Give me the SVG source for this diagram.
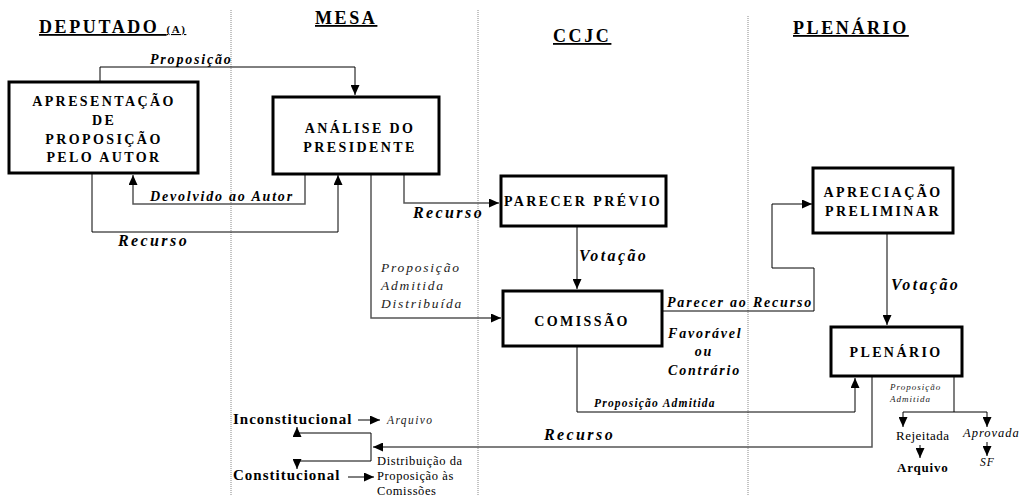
<svg xmlns="http://www.w3.org/2000/svg" width="1024" height="496" viewBox="0 0 1024 496" font-family="'Liberation Serif','DejaVu Serif',serif">
<style>
text{font-family:'Liberation Serif','DejaVu Serif',serif;fill:#000}
.hd{font-size:18px;font-weight:bold;letter-spacing:2.6px;text-decoration:underline}
.bx{font-size:14px;font-weight:bold;letter-spacing:2.4px;text-anchor:middle}
.lb{font-size:14px;font-weight:bold;font-style:italic;letter-spacing:1.8px}
.big{font-size:16px;letter-spacing:2.4px}
.li{font-size:13.5px;font-style:italic;letter-spacing:1.8px;fill:#222}
.sm{font-size:9px;font-style:italic;letter-spacing:1px;fill:#222}
.node{fill:#fff;stroke:#000;stroke-width:3}
.c{fill:none;stroke:#000;stroke-width:1}
.g{fill:none;stroke:#555;stroke-width:1.5}
.div{stroke:#888;stroke-width:1;stroke-dasharray:1 1}
</style>
<defs>
<marker id="ar" markerUnits="userSpaceOnUse" markerWidth="10" markerHeight="9" refX="10" refY="4.5" orient="auto">
<path d="M0,0 L10,4.5 L0,9 z" fill="#000"/>
</marker>
</defs>
<rect width="1024" height="496" fill="#fff"/>
<g id="dividers">
<line class="div" x1="231" y1="10" x2="231" y2="496"/>
<line class="div" x1="478" y1="10" x2="478" y2="496"/>
<line class="div" x1="748" y1="16" x2="748" y2="496"/>
</g>
<g id="headers">
<text class="hd" x="39" y="33">DEPUTADO <tspan style="font-size:11px;letter-spacing:1.5px">(A)</tspan></text>
<text class="hd" x="315" y="24">MESA</text>
<text class="hd" x="553" y="42">CCJC</text>
<text class="hd" x="793" y="34">PLENÁRIO</text>
</g>
<g id="connectors">
<path class="c" d="M100 81 V67 H355 V95" marker-end="url(#ar)"/>
<path class="g" d="M305 174 V204 H133 V175" marker-end="url(#ar)"/>
<path class="c" d="M92 174 V232 H338 V175" marker-end="url(#ar)"/>
<path class="g" d="M404 174 V203 H499" marker-end="url(#ar)"/>
<path class="g" d="M371 174 V318 H501" marker-end="url(#ar)"/>
<path class="c" d="M577 226 V289" marker-end="url(#ar)"/>
<path class="c" d="M663 311 H814 V268 H772 V204 H812" marker-end="url(#ar)"/>
<path class="g" d="M887 233 V325" marker-end="url(#ar)"/>
<path class="c" d="M577 347 V412 H855 V378" marker-end="url(#ar)"/>
<path class="g" d="M872 377 V447 H373" marker-end="url(#ar)"/>
<path class="c" d="M371 433 V461"/>
<path class="c" d="M371 433 H297 V427" marker-end="url(#ar)"/>
<path class="c" d="M371 461 H297 V469" marker-end="url(#ar)"/>
<path class="c" d="M358 420 H380" marker-end="url(#ar)"/>
<path class="c" d="M348 477 H374" marker-end="url(#ar)"/>
<path class="g" d="M954 377 V412"/>
<path class="c" d="M903 412 H987"/>
<path class="c" d="M903 412 V427" marker-end="url(#ar)"/>
<path class="c" d="M987 412 V427" marker-end="url(#ar)"/>
<path class="c" d="M920 445 V458" marker-end="url(#ar)"/>
<path class="c" d="M987 442 V456" marker-end="url(#ar)"/>
</g>
<g id="labels">
<text class="lb" x="150" y="64">Proposição</text>
<text class="lb" x="150" y="201">Devolvido ao Autor</text>
<text class="lb big" x="118" y="246">Recurso</text>
<text class="lb big" x="413" y="218">Recurso</text>
<text class="li" x="381" y="272">Proposição</text>
<text class="li" x="381" y="290">Admitida</text>
<text class="li" x="381" y="308">Distribuída</text>
<text class="lb big" x="579" y="261">Votação</text>
<text class="lb" x="667" y="307">Parecer ao Recurso</text>
<text class="lb" x="668" y="338">Favorável</text>
<text class="lb" x="704" y="356" text-anchor="middle">ou</text>
<text class="lb" x="668" y="375">Contrário</text>
<text class="lb big" x="891" y="290">Votação</text>
<text class="lb" x="594" y="407" style="font-size:11.5px;letter-spacing:1.2px">Proposição Admitida</text>
<text class="lb big" x="544" y="440">Recurso</text>
<text x="233" y="424" font-size="15" font-weight="bold" letter-spacing="1">Inconstitucional</text>
<text x="387" y="424" class="sm" style="font-size:11.5px;letter-spacing:1.4px">Arquivo</text>
<text x="233" y="480" font-size="15" font-weight="bold" letter-spacing="1">Constitucional</text>
<text x="377" y="465" font-size="12.5" letter-spacing="0.6">Distribuição da</text>
<text x="377" y="480" font-size="12.5" letter-spacing="0.6">Proposição às</text>
<text x="377" y="495" font-size="12.5" letter-spacing="0.6">Comissões</text>
<text class="sm" x="890" y="390">Proposição</text>
<text class="sm" x="890" y="402">Admitida</text>
<text x="896" y="440" font-size="13" letter-spacing="0.5">Rejeitada</text>
<text x="897" y="472" font-size="13" font-weight="bold" letter-spacing="0.8">Arquivo</text>
<text x="963" y="437" font-size="12.5" font-style="italic" letter-spacing="1">Aprovada</text>
<text x="980" y="466" font-size="11.5" font-style="italic" letter-spacing="1">SF</text>
</g>
<g id="n-apresentacao">
<rect class="node" x="9" y="82" width="189" height="91"/>
<text class="bx" x="104" y="106">APRESENTAÇÃO</text>
<text class="bx" x="104" y="125">DE</text>
<text class="bx" x="104" y="144">PROPOSIÇÃO</text>
<text class="bx" x="104" y="162">PELO AUTOR</text>
</g>
<g id="n-analise">
<rect class="node" x="273" y="97" width="166" height="77"/>
<text class="bx" x="360" y="133">ANÁLISE DO</text>
<text class="bx" x="360" y="152">PRESIDENTE</text>
</g>
<g id="n-parecer">
<rect class="node" x="501" y="176" width="165" height="50"/>
<text class="bx" x="583" y="206">PARECER PRÉVIO</text>
</g>
<g id="n-comissao">
<rect class="node" x="503" y="291" width="159" height="55"/>
<text class="bx" x="582" y="326">COMISSÃO</text>
</g>
<g id="n-apreciacao">
<rect class="node" x="813" y="168" width="140" height="65"/>
<text class="bx" x="883" y="197">APRECIAÇÃO</text>
<text class="bx" x="883" y="216">PRELIMINAR</text>
</g>
<g id="n-plenario">
<rect class="node" x="831" y="327" width="131" height="49"/>
<text class="bx" x="896" y="357">PLENÁRIO</text>
</g>
</svg>
